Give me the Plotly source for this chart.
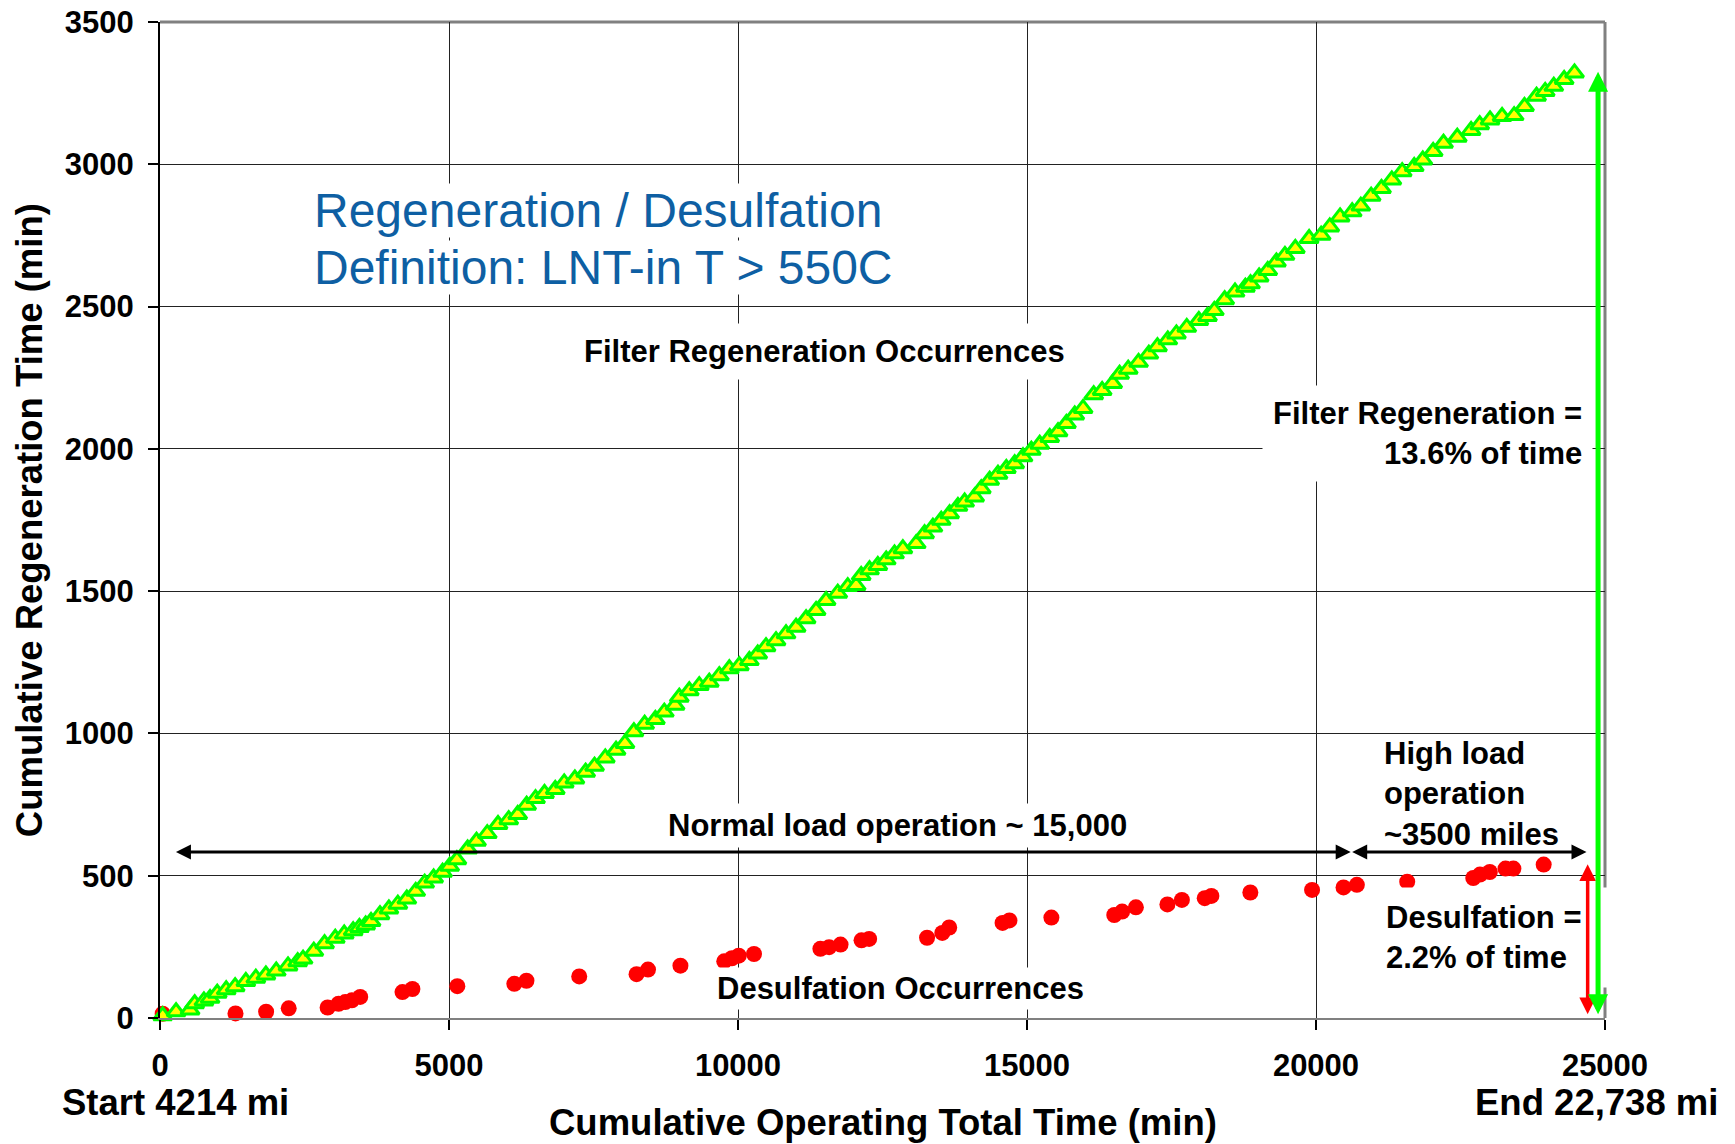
import plotly.graph_objects as go

# ---------------- data ----------------
regen_time = [46, 278, 520, 600, 760, 866, 990, 1145, 1300, 1485, 1658, 1832, 2011, 2215, 2382, 2475,
              2661, 2847, 3032, 3187, 3342, 3450, 3558, 3651, 3806, 3960, 4115, 4270, 4424, 4579, 4734,
              4889, 5012, 5136, 5322, 5476, 5662, 5848, 6033, 6188, 6343, 6497, 6652, 6838, 6993, 7178,
              7364, 7518, 7704, 7890, 8044, 8199, 8385, 8570, 8725, 8911, 8984,
              9157, 9330, 9503, 9677, 9850, 10023, 10196, 10341, 10485, 10658, 10831, 11005, 11178,
              11351, 11524, 11726, 11899, 12044, 12131, 12275, 12419, 12564, 12708, 12852, 13083,
              13228, 13372, 13516, 13661, 13805, 13921, 14094, 14209, 14354, 14498, 14642, 14787,
              14931, 15075, 15220, 15393, 15537, 15682, 15826, 15970,
              16154, 16300, 16482, 16602, 16751, 16930, 17108, 17257, 17436, 17585, 17764, 17973,
              18122, 18241, 18420, 18599, 18778, 18867, 19016, 19165, 19315, 19463, 19642, 19881,
              20089, 20238, 20417, 20626, 20775, 20954, 21133, 21312, 21491, 21699, 21848, 22027,
              22206, 22444, 22683, 22832, 23011, 23219, 23428, 23607, 23816, 23965, 24114, 24293, 24472]
regen_cum = [8, 22, 28, 50, 60, 69, 87, 99, 110, 128, 140, 151, 165, 183, 198, 207,
             235, 261, 280, 295, 307, 318, 327, 339, 363, 383, 400, 418, 445, 474, 492,
             512, 533, 556, 594, 621, 648, 680, 697, 715, 748, 771, 789, 803, 826, 840,
             864, 885, 914, 941, 965, 1006, 1032, 1049, 1075, 1099, 1127,
             1150, 1168, 1180, 1203, 1227, 1238, 1256, 1279, 1305, 1326, 1350, 1373, 1403,
             1432, 1467, 1493, 1516, 1520, 1555, 1575, 1590, 1610, 1631, 1649, 1667,
             1702, 1725, 1749, 1772, 1798, 1813, 1831, 1860, 1890, 1911, 1931, 1948,
             1972, 1995, 2016, 2040, 2060, 2089, 2119, 2142,
             2190, 2205, 2230, 2262, 2280, 2304, 2333, 2359, 2383, 2404, 2427, 2451,
             2465, 2486, 2524, 2551, 2568, 2580, 2604, 2627, 2657, 2680, 2704, 2739,
             2751, 2780, 2815, 2833, 2853, 2888, 2915, 2945, 2974, 2992, 3015, 3045,
             3074, 3095, 3119, 3139, 3156, 3168, 3171, 3203, 3239, 3256, 3274, 3298, 3321]

desulf_time = [46, 1306, 1836, 2227, 2900, 3090, 3205, 3320, 3464, 4195, 4367, 5144, 6130, 6340,
               7253, 8245, 8443, 9004, 9762, 9894, 10013, 10277, 11425, 11576, 11774, 12137, 12269,
               13271, 13535, 13654, 14577, 14696, 15422, 16510, 16646, 16884, 17429, 17680, 18075,
               18190, 18864, 19932, 20476, 20707, 21578, 22721, 22837, 23007, 23279, 23415, 23939]
desulf_cum = [15, 16, 22, 34, 37, 50, 56, 62, 74, 91, 102, 112, 120, 131,
              146, 154, 170, 184, 199, 210, 219, 225, 243, 249, 258, 273, 278,
              282, 299, 318, 334, 343, 353, 362, 374, 389, 399, 415, 421,
              429, 441, 450, 459, 468, 479, 492, 504, 513, 525, 525, 539]

x_ticks = [0, 5000, 10000, 15000, 20000, 25000]
y_ticks = [0, 500, 1000, 1500, 2000, 2500, 3000, 3500]

# annotation / arrow anchor values (data units)
arrow_y = 583
normal_start, split_x, high_end = 250, 20600, 24680
red_x, red_top = 24700, 540
green_x, green_top = 24880, 3325
arrow_bottom = 8

FONT = "Arial, Liberation Sans, sans-serif"
BLUE = "#0E5FA3"

fig = go.Figure()
fig.add_trace(go.Scatter(
    x=desulf_time, y=desulf_cum, mode="markers", name="Desulfation",
    marker=dict(symbol="circle", size=16, color="#FF0000", line=dict(width=0)),
    cliponaxis=False, showlegend=False))
fig.add_trace(go.Scatter(
    x=regen_time, y=regen_cum, mode="markers", name="Regeneration",
    marker=dict(symbol="triangle-up", size=16, color="#FFFF00",
                line=dict(color="#00FF00", width=3)),
    cliponaxis=False, showlegend=False))

tickfont = dict(family=FONT, size=31, color="black", weight="bold")
fig.update_xaxes(range=[0, 25000], tickvals=x_ticks, ticktext=[str(v) for v in x_ticks],
                 showgrid=True, gridcolor="#222222", gridwidth=1.2, zeroline=False,
                 showline=True, linecolor="#808080", linewidth=2, automargin=False,
                 ticks="outside", ticklen=10, tickwidth=1.5, tickcolor="black",
                 tickfont=tickfont, ticklabelstandoff=9)
fig.update_yaxes(range=[0, 3500], tickvals=y_ticks, ticktext=[str(v) for v in y_ticks],
                 showgrid=True, gridcolor="#222222", gridwidth=1.2, zeroline=False,
                 showline=True, linecolor="black", linewidth=2, automargin=False,
                 ticks="outside", ticklen=10, tickwidth=1.5, tickcolor="black",
                 tickfont=tickfont, ticklabelstandoff=8)

# top and right frame lines
fig.add_shape(type="line", xref="paper", yref="paper", x0=0, x1=1, y0=1, y1=1,
              line=dict(color="#808080", width=3), layer="below")
fig.add_shape(type="line", xref="paper", yref="paper", x0=1, x1=1, y0=0, y1=1,
              line=dict(color="#808080", width=3), layer="below")

bold = lambda s: dict(family=FONT, size=s, color="black", weight="bold")
ann = []
# blue definition text (two lines, tighter spacing than plotly's default)
ann.append(dict(x=2650, y=2839, xref="x", yref="y", xanchor="left", yanchor="middle",
                text="Regeneration / Desulfation", align="left",
                showarrow=False, bgcolor="white", borderpad=0,
                font=dict(family=FONT, size=48, color=BLUE)))
ann.append(dict(x=2650, y=2639, xref="x", yref="y", xanchor="left", yanchor="middle",
                text="Definition: LNT-in T > 550C", align="left",
                showarrow=False, bgcolor="white", borderpad=0,
                font=dict(family=FONT, size=48, color=BLUE)))
ann.append(dict(x=11494, y=2341, xref="x", yref="y", text="Filter Regeneration Occurrences",
                showarrow=False, bgcolor="white", borderpad=10, font=bold(31)))
ann.append(dict(x=24800, y=2055, xref="x", yref="y", xanchor="right", yanchor="middle",
                text="Filter Regeneration =<br>13.6% of time", align="right",
                showarrow=False, bgcolor="white", borderpad=10, font=bold(31)))
ann.append(dict(x=12768, y=677, xref="x", yref="y", text="Normal load operation ~ 15,000",
                showarrow=False, bgcolor="white", borderpad=4, font=bold(31)))
ann.append(dict(x=21150, y=786, xref="x", yref="y", xanchor="left", yanchor="middle",
                text="High load<br>operation<br>~3500 miles", align="left",
                showarrow=False, font=bold(31)))
ann.append(dict(x=20980, y=282, xref="x", yref="y", xanchor="left", yanchor="middle",
                text="Desulfation =<br>2.2% of time", align="left", width=235,
                showarrow=False, bgcolor="white", borderpad=12, font=bold(31)))
ann.append(dict(x=12816, y=105, xref="x", yref="y", text="Desulfation Occurrences",
                showarrow=False, bgcolor="white", borderpad=3, font=bold(31)))

# arrows
def arrow(x0, y0, x1, y1, color, width, size):
    return dict(x=x1, y=y1, ax=x0, ay=y0, xref="x", yref="y", axref="x", ayref="y",
                text="", showarrow=True, arrowhead=2, startarrowhead=2, arrowside="end+start",
                arrowwidth=width, arrowsize=size, startarrowsize=size, arrowcolor=color,
                standoff=0, startstandoff=0)

ann.append(arrow(normal_start, arrow_y, split_x, arrow_y, "black", 3, 1.0))
ann.append(arrow(split_x, arrow_y, high_end, arrow_y, "black", 3, 1.0))
ann.append(arrow(red_x, arrow_bottom, red_x, red_top, "#FF0000", 3.5, 0.95))
ann.append(arrow(green_x, arrow_bottom, green_x, green_top, "#00FF00", 5, 0.8))

# axis titles and end labels
ann.append(dict(x=0.5, y=-0.1054, xref="paper", yref="paper", xanchor="center", yanchor="middle",
                text="Cumulative Operating Total Time (min)", showarrow=False, font=bold(36.5)))
ann.append(dict(x=-0.0905, y=0.5, xref="paper", yref="paper", xanchor="center", yanchor="middle",
                textangle=-90, text="Cumulative Regeneration Time (min)", showarrow=False,
                font=bold(36.5)))
ann.append(dict(x=0.0107, y=-0.0853, xref="paper", yref="paper", xanchor="center", yanchor="middle",
                text="Start 4214 mi", showarrow=False, font=bold(36.5)))
ann.append(dict(x=0.9938, y=-0.0853, xref="paper", yref="paper", xanchor="center", yanchor="middle",
                text="End 22,738 mi", showarrow=False, font=bold(36.5)))

fig.update_layout(
    width=1735, height=1144,
    margin=dict(l=160, r=130, t=22, b=126),
    paper_bgcolor="white", plot_bgcolor="white",
    annotations=ann, showlegend=False,
    font=dict(family=FONT),
)

fig.write_html("out.html")
